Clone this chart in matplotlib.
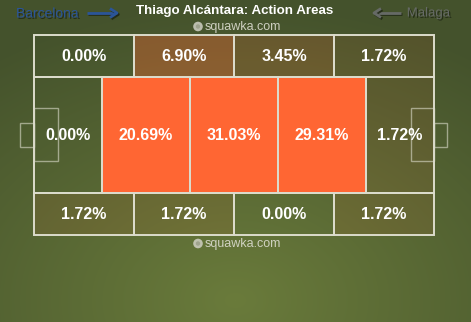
import numpy as np
import matplotlib.pyplot as plt
from matplotlib.patches import Rectangle, Circle
import matplotlib.patheffects as pe

# zone shares (%), pitch split in 3 bands
top_vals = [0.00, 6.90, 3.45, 1.72]
mid_vals = [0.00, 20.69, 31.03, 29.31, 1.72]
bot_vals = [1.72, 1.72, 0.00, 1.72]

title = 'Thiago Alcántara: Action Areas'
home_team = 'Barcelona'
away_team = 'Malaga'

W, H = 471, 322
fig = plt.figure(figsize=(W / 100, H / 100), dpi=100)
ax = fig.add_axes([0, 0, 1, 1])
ax.set_xlim(0, W)
ax.set_ylim(H, 0)
ax.axis('off')

# background: olive gradient, lighter towards bottom centre
yy, xx = np.mgrid[0:H, 0:W]
r = np.sqrt(((xx - 235) / 420.0) ** 2 + ((yy - 300) / 300.0) ** 2)
r = np.clip(r, 0, 1)[..., None]
c_in = np.array([0x6a, 0x7b, 0x3b]) / 255
c_out = np.array([0x44, 0x52, 0x2c]) / 255
bg = c_in * (1 - r) + c_out * r
ax.imshow(bg, extent=[0, W, H, 0], zorder=0, aspect='auto')

orange = '#ff6633'
line_c = '#dcdccc'
font = 'Liberation Sans'

# pitch geometry (pixels)
y0, y1, y2, y3 = 35, 77, 193, 235
band_edges = [34, 134, 234, 334, 434]
mid_edges = [34, 102, 190, 278, 366, 434]


def cell(xa, xb, ya, yb, v):
    a = min(v / 20.0, 1.0)
    ax.add_patch(Rectangle((xa, ya), xb - xa, yb - ya, facecolor=orange,
                           alpha=a, edgecolor='none', zorder=1))
    ax.add_patch(Rectangle((xa, ya), xb - xa, yb - ya, facecolor='none',
                           edgecolor=line_c, lw=1.4, zorder=3))
    ax.text((xa + xb) / 2, (ya + yb) / 2 + 0.5, f'{v:.2f}%', color='white',
            fontsize=11.5, fontweight='bold', family=font,
            ha='center', va='center', zorder=4)


for i, v in enumerate(top_vals):
    cell(band_edges[i], band_edges[i + 1], y0, y1, v)
for i, v in enumerate(mid_vals):
    cell(mid_edges[i], mid_edges[i + 1], y1, y2, v)
for i, v in enumerate(bot_vals):
    cell(band_edges[i], band_edges[i + 1], y2, y3, v)

# boxes and goals
thin = dict(facecolor='none', edgecolor=line_c, lw=1.0, alpha=0.6, zorder=3)
ax.add_patch(Rectangle((34, 108), 23.5, 53, **thin))
ax.add_patch(Rectangle((20, 123), 14, 24, **thin))
ax.add_patch(Rectangle((410.5, 108), 23.5, 53, **thin))
ax.add_patch(Rectangle((434, 123), 13, 24, **thin))

# header texts
ax.text(235, 11, title, color='white', fontsize=9.6, fontweight='bold',
        family=font, ha='center', va='center')
shadow = [pe.SimpleLineShadow(offset=(1, -1), shadow_color='#1e2614', alpha=0.8), pe.Normal()]
tshadow = [pe.withSimplePatchShadow(offset=(1, -1), shadow_rgbFace='#1e2614', alpha=0.8)]


def arrow(xs, xe, col):
    d = 1 if xe > xs else -1
    kw = dict(color=col, lw=2.0, solid_capstyle='butt', path_effects=shadow)
    ax.plot([xs, xe], [13, 13], **kw)
    ax.plot([xe - d * 7, xe, xe - d * 7], [8.5, 13, 17.5], **kw)


ax.text(16, 13.5, home_team, color='#2b5598', fontsize=10, family=font,
        ha='left', va='center', path_effects=tshadow)
arrow(87, 117, '#2b5598')
ax.text(450, 13.5, away_team, color='#666a66', fontsize=9.5, family=font,
        ha='right', va='center', path_effects=tshadow)
arrow(401, 374, '#666a66')

# watermark
for yw in (26.5, 243.5):
    ax.add_patch(Circle((198, yw), 4.8, facecolor='#d0d0c4', edgecolor='none',
                        alpha=0.85, zorder=5))
    ax.add_patch(Circle((198, yw), 2.2, facecolor='#8a8f78', edgecolor='none',
                        alpha=0.6, zorder=5))
    ax.text(205, yw, 'squawka.com', color='#dcdcd0', fontsize=9, family=font,
            ha='left', va='center', alpha=0.9, zorder=5)

fig.savefig('out.png', dpi=100)
